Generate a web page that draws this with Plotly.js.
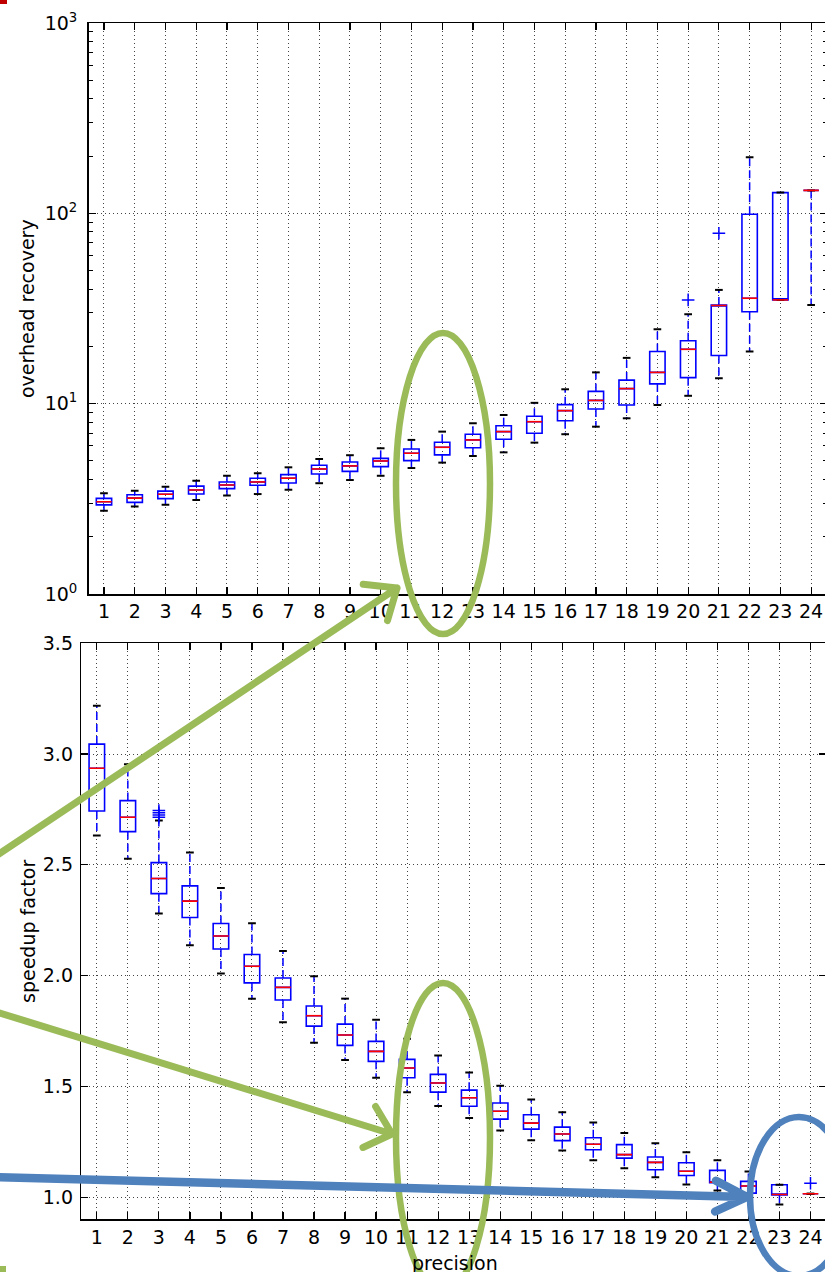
<!DOCTYPE html>
<html><head><meta charset="utf-8">
<script src="https://cdn.plot.ly/plotly-3.0.1.min.js"></script>
<style>
html,body{margin:0;padding:0;overflow:hidden;background:#fff}
#chart{width:828px;height:1272px}
.shapelayer path{stroke-linecap:round;stroke-linejoin:round}
</style></head><body><div id="chart"></div>
<script>
// ---- data ----
const precision = [1,2,3,4,5,6,7,8,9,10,11,12,13,14,15,16,17,18,19,20,21,22,23,24];

// overhead recovery (log scale)
const ovLo  = [2.74,2.88,2.94,3.12,3.29,3.35,3.53,3.82,3.97,4.18,4.59,4.90,5.31,5.55,6.24,6.91,7.57,8.38,9.84,11.0,13.6,18.8,35.1,33.0];
const ovQ1  = [2.94,3.03,3.17,3.35,3.58,3.73,3.83,4.27,4.41,4.67,5.02,5.38,5.87,6.50,6.99,8.14,9.38,9.84,12.7,13.7,17.9,30.4,35.1,132];
const ovMed = [3.05,3.19,3.34,3.52,3.74,3.88,4.06,4.54,4.71,5.00,5.49,5.90,6.45,7.13,8.04,9.19,10.4,12.0,14.6,19.3,32.8,35.8,35.1,132];
const ovQ3  = [3.18,3.32,3.47,3.69,3.88,4.06,4.24,4.75,4.94,5.16,5.78,6.27,6.91,7.66,8.59,9.88,11.6,13.3,18.8,21.4,33.0,98.9,128.5,132];
const ovHi  = [3.38,3.49,3.66,3.94,4.18,4.31,4.63,5.12,5.36,5.83,6.45,7.13,7.89,8.72,10.1,11.9,14.6,17.4,24.6,29.5,39.6,197,128.5,132];
const ovOutX = [20,21];
const ovOutY = [35.1,78.6];

// speedup factor
const spLo  = [2.632,2.527,2.280,2.137,2.010,1.896,1.789,1.697,1.619,1.539,1.474,1.411,1.357,1.301,1.257,1.210,1.167,1.130,1.090,1.057,1.030,1.018,0.967,1.015];
const spQ1  = [2.743,2.650,2.370,2.262,2.120,1.967,1.890,1.772,1.685,1.613,1.539,1.474,1.410,1.352,1.307,1.255,1.214,1.176,1.124,1.098,1.065,1.018,1.010,1.015];
const spMed = [2.936,2.715,2.438,2.336,2.179,2.042,1.947,1.819,1.732,1.658,1.583,1.515,1.449,1.388,1.334,1.285,1.239,1.192,1.157,1.117,1.068,1.050,1.012,1.015];
const spQ3  = [3.045,2.790,2.510,2.405,2.235,2.095,1.989,1.863,1.781,1.703,1.622,1.554,1.483,1.425,1.372,1.316,1.268,1.237,1.181,1.155,1.121,1.071,1.056,1.015];
const spHi  = [3.218,2.954,2.700,2.556,2.396,2.236,2.111,1.997,1.896,1.801,1.715,1.639,1.563,1.503,1.441,1.383,1.337,1.289,1.243,1.203,1.166,1.116,1.056,1.015];
const spOutX = [3,3,3,3,24];
const spOutY = [2.715,2.725,2.735,2.745,1.063];

const ovTickVals = [1,10,100,1000];
const ovTickText = ['10<sup>0</sup>','10<sup>1</sup>','10<sup>2</sup>','10<sup>3</sup>'];
const spTickVals = [1.0,1.5,2.0,2.5,3.0,3.5];

// ---- figure geometry ----
const W = 828, H = 1272;
const PX = x => x / W;
const PY = y => 1 - y / H;

const BLUE = '#0000ff', RED = '#ff0000';
const BOXW = 0.5, CAPW = 0.25;

function boxTraces(xa, ya, lo, q1, med, q3, hi, outX, outY) {
  const wx=[], wy=[], cx=[], cy=[], mx=[], my=[];
  precision.forEach((p, i) => {
    wx.push(p, p, null, p, p, null);
    wy.push(q3[i], hi[i], null, q1[i], lo[i], null);
    cx.push(p - CAPW/2, p + CAPW/2, null, p - CAPW/2, p + CAPW/2, null);
    cy.push(hi[i], hi[i], null, lo[i], lo[i], null);
    mx.push(p - BOXW/2, p + BOXW/2, null);
    my.push(med[i], med[i], null);
  });
  return [
    {type:'scatter', mode:'lines', x:wx, y:wy, xaxis:xa, yaxis:ya,
     line:{color:BLUE, width:1.5, dash:'8px,4px'}, hoverinfo:'skip', showlegend:false},
    {type:'box', x:precision, q1:q1, median:med, q3:q3, lowerfence:q1, upperfence:q3,
     width:BOXW, whiskerwidth:0, xaxis:xa, yaxis:ya, boxpoints:false,
     line:{color:BLUE, width:1.6}, fillcolor:'rgba(255,255,255,0)', hoverinfo:'skip', showlegend:false},
    {type:'scatter', mode:'lines', x:cx, y:cy, xaxis:xa, yaxis:ya,
     line:{color:'#000', width:2}, hoverinfo:'skip', showlegend:false},
    {type:'scatter', mode:'lines', x:mx, y:my, xaxis:xa, yaxis:ya,
     line:{color:RED, width:1.6}, hoverinfo:'skip', showlegend:false},
    {type:'scatter', mode:'markers', x:outX, y:outY, xaxis:xa, yaxis:ya,
     marker:{symbol:'cross-thin', size:9, color:BLUE, line:{color:BLUE, width:1.5}},
     hoverinfo:'skip', showlegend:false}
  ];
}

const data = [
  ...boxTraces('x','y', ovLo, ovQ1, ovMed, ovQ3, ovHi, ovOutX, ovOutY),
  ...boxTraces('x2','y2', spLo, spQ1, spMed, spQ3, spHi, spOutX, spOutY)
];

const FONT = {family:'DejaVu Sans, Bitstream Vera Sans, sans-serif', size:19, color:'#000'};
const axisCommon = {
  showline:true, linecolor:'#000', linewidth:1.5, mirror:'ticks',
  ticks:'inside', ticklen:7, tickwidth:1.2, tickcolor:'#000',
  showgrid:true, gridcolor:'#444', gridwidth:1, griddash:'1px,3px',
  zeroline:false, tickfont:FONT, fixedrange:true
};

const GREEN = '#9BBB59', SBLUE = '#4F81BD';

function arrowPath(x0, y0, x1, y1, len, ang) {
  const dx = x1 - x0, dy = y1 - y0, L = Math.hypot(dx, dy);
  const ux = -dx / L, uy = -dy / L;
  const a = ang * Math.PI / 180, c = Math.cos(a), s = Math.sin(a);
  const r1 = [ux*c - uy*s, ux*s + uy*c];
  const r2 = [ux*c + uy*s, -ux*s + uy*c];
  const P = (x, y) => PX(x) + ',' + PY(y);
  return 'M' + P(x0, y0) + ' L' + P(x1, y1) +
         ' M' + P(x1 + len*r1[0], y1 + len*r1[1]) + ' L' + P(x1, y1) +
         ' L' + P(x1 + len*r2[0], y1 + len*r2[1]);
}

const shapes = [
  // green ellipses
  {type:'circle', xref:'paper', yref:'paper', x0:PX(396), x1:PX(490), y0:PY(634), y1:PY(333),
   line:{color:GREEN, width:6.5}},
  {type:'circle', xref:'paper', yref:'paper', x0:PX(396), x1:PX(490), y0:PY(1292), y1:PY(983),
   line:{color:GREEN, width:6.5}},
  // blue ellipse
  {type:'circle', xref:'paper', yref:'paper', x0:PX(750), x1:PX(848), y0:PY(1276), y1:PY(1117),
   line:{color:SBLUE, width:6.5}},
  // arrows
  {type:'path', xref:'paper', yref:'paper', path:arrowPath(-10, 860, 397, 588, 34, 40),
   line:{color:GREEN, width:7}},
  {type:'path', xref:'paper', yref:'paper', path:arrowPath(-10, 1010, 392, 1134, 32, 42),
   line:{color:GREEN, width:7}},
  {type:'path', xref:'paper', yref:'paper', path:arrowPath(-10, 1177, 747, 1197, 35, 26),
   line:{color:SBLUE, width:8.5}},
  // slide edge marks
  {type:'rect', xref:'paper', yref:'paper', x0:PX(0), x1:PX(7), y0:PY(4), y1:PY(0),
   line:{width:0}, fillcolor:'#C00000'},
  {type:'rect', xref:'paper', yref:'paper', x0:PX(0), x1:PX(6), y0:PY(1272), y1:PY(1266),
   line:{width:0}, fillcolor:GREEN}
];

const annFont = {family:FONT.family, size:19, color:'#000'};
const annotations = [
  {text:'overhead recovery', xref:'paper', yref:'paper', x:PX(27), y:PY(309),
   showarrow:false, textangle:-90, font:annFont, xanchor:'center', yanchor:'middle'},
  {text:'speedup factor', xref:'paper', yref:'paper', x:PX(28), y:PY(932),
   showarrow:false, textangle:-90, font:annFont, xanchor:'center', yanchor:'middle'},
  {text:'precision', xref:'paper', yref:'paper', x:PX(455), y:PY(1250),
   showarrow:false, font:annFont, xanchor:'center', yanchor:'top'}
];

const layout = {
  width:W, height:H, margin:{l:0, r:0, t:0, b:0},
  paper_bgcolor:'#fff', plot_bgcolor:'#fff', showlegend:false,
  xaxis: Object.assign({}, axisCommon, {domain:[PX(88.6), PX(826.5)], range:[0.5, 24.5],
    tickvals:precision, anchor:'y'}),
  yaxis: Object.assign({}, axisCommon, {domain:[PY(594), PY(23)], type:'log', range:[0, 3],
    tickvals:ovTickVals, ticktext:ovTickText, anchor:'x', ticklabelstandoff:6,
    minor:{ticks:'inside', ticklen:4, tickwidth:1, tickcolor:'#000', dtick:'D1', showgrid:false}}),
  xaxis2: Object.assign({}, axisCommon, {domain:[PX(81.3), PX(826)], range:[0.5, 24.5],
    tickvals:precision, anchor:'y2'}),
  yaxis2: Object.assign({}, axisCommon, {domain:[PY(1219.3), PY(643.3)], range:[0.9, 3.5],
    tickvals:spTickVals, tickformat:'.1f', anchor:'x2', ticklabelstandoff:3}),
  shapes:shapes, annotations:annotations
};

Plotly.newPlot('chart', data, layout, {staticPlot:true, displayModeBar:false});
</script></body></html>
